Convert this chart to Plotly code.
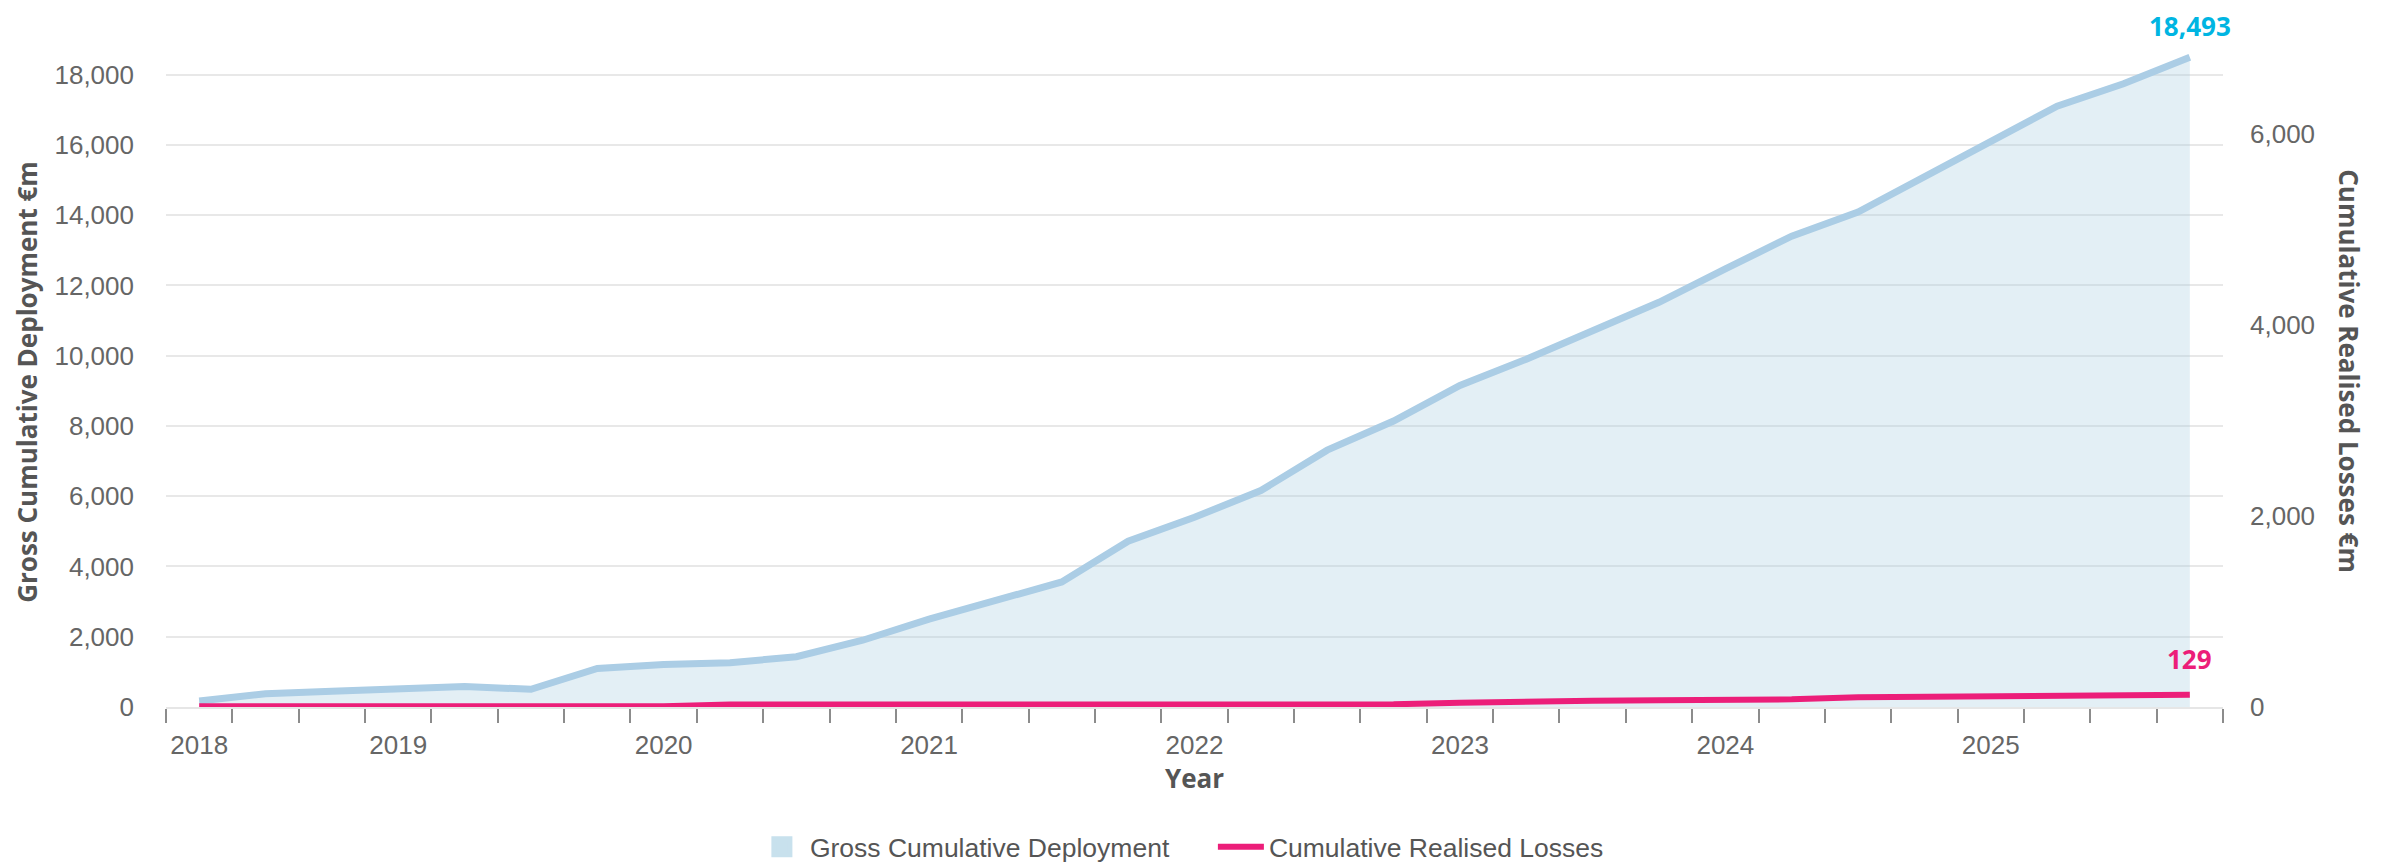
import plotly.graph_objects as go

# ---- data -----------------------------------------------------------------
quarters = [
    "2018 Q2", "2018 Q3", "2018 Q4",
    "2019 Q1", "2019 Q2", "2019 Q3", "2019 Q4",
    "2020 Q1", "2020 Q2", "2020 Q3", "2020 Q4",
    "2021 Q1", "2021 Q2", "2021 Q3", "2021 Q4",
    "2022 Q1", "2022 Q2", "2022 Q3", "2022 Q4",
    "2023 Q1", "2023 Q2", "2023 Q3", "2023 Q4",
    "2024 Q1", "2024 Q2", "2024 Q3", "2024 Q4",
    "2025 Q1", "2025 Q2", "2025 Q3", "2025 Q4",
]
deployment = [170, 380, 450, 530, 580, 505, 1095, 1210, 1260, 1430,
              1900, 2500, 3050, 3560, 4720, 5400, 6160, 7310, 8140, 9150,
              9900, 10710, 11520, 12470, 13400, 14090, 15080, 16080, 17100, 17740,
              18493]
losses = [8, 8, 8, 8, 8, 8, 8, 8,
          25, 25, 25, 25, 25, 25, 25, 25, 25, 26, 28,
          45, 62, 66, 70, 73, 80, 101, 105, 112, 119, 122, 129]

series_names = ["Gross Cumulative Deployment", "Cumulative Realised Losses"]
left_title = "Gross Cumulative Deployment €m"
right_title = "Cumulative Realised Losses €m"
x_title = "Year"

# ---- derived helpers --------------------------------------------------------
idx = list(range(len(quarters)))
year_pos, year_txt = [], []
prev = None
for i, q in enumerate(quarters):
    yr = q.split()[0]
    if yr != prev:
        year_pos.append(i)
        year_txt.append(yr)
        prev = yr
boundaries = [i - 0.5 for i in range(len(quarters) + 1)]

BLUE_LINE = "#abcde5"
BLUE_FILL = "rgba(169,206,226,0.33)"
BLUE_SWATCH = "#c8e1ed"
PINK = "#ec1e79"
CYAN = "#00b5e2"
REG = "Liberation Sans, Arial, sans-serif"
TICK_FONT = dict(family=REG, size=26, color="#666666")
BOLD = "Open Sans, Liberation Sans, sans-serif"

fig = go.Figure()
fig.add_trace(go.Scatter(
    x=idx, y=deployment, mode="lines", name=series_names[0],
    line=dict(color=BLUE_LINE, width=7), fill="tozeroy", fillcolor=BLUE_FILL,
    showlegend=False, hoverinfo="skip"))
fig.add_trace(go.Scatter(
    x=[None], y=[None], mode="markers", name=series_names[0],
    marker=dict(symbol="square", size=26, color=BLUE_SWATCH,
                line=dict(width=5, color=BLUE_SWATCH))))
fig.add_trace(go.Scatter(
    x=idx, y=losses, mode="lines", name=series_names[1], yaxis="y2",
    line=dict(color=PINK, width=6)))

# page body has an 8px default margin, so the figure is 8px smaller each way
fig.update_layout(
    width=2376, height=857,
    margin=dict(l=158, r=161, t=42, b=158, autoexpand=False),
    paper_bgcolor="white", plot_bgcolor="white",
    xaxis=dict(
        range=[-0.5, len(quarters) - 0.5],
        tickmode="array", tickvals=year_pos, ticktext=year_txt,
        ticks="outside", ticklen=14, tickcolor="rgba(0,0,0,0)",
        tickfont=TICK_FONT, showgrid=False, zeroline=False,
        showline=True, linecolor="#e6e6e6", linewidth=2,
        minor=dict(tickmode="array", tickvals=boundaries, ticks="outside",
                   ticklen=14, tickcolor="#8c8c8c", tickwidth=1.5, showgrid=False),
    ),
    yaxis=dict(
        range=[0, 18700], tickmode="linear", tick0=0, dtick=2000,
        tickformat=",", tickfont=TICK_FONT,
        showgrid=True, gridcolor="#e8e8e8", gridwidth=2,
        zeroline=False, showline=False, ticks="", ticklabelstandoff=31,
    ),
    yaxis2=dict(
        overlaying="y", side="right", range=[0, 6880],
        tickmode="linear", tick0=0, dtick=2000, tickformat=",",
        tickfont=TICK_FONT, showgrid=False, zeroline=False, showline=False,
        ticks="", ticklabelstandoff=26,
    ),
    legend=dict(
        orientation="h", x=0.2858, xanchor="left", y=-0.213, yanchor="middle",
        font=dict(family=REG, size=26.5, color="#555555"),
        itemsizing="trace", itemwidth=46, tracegroupgap=0,
        entrywidth=398, entrywidthmode="pixels",
    ),
    showlegend=True,
)

annotations = [
    dict(text=left_title, xref="paper", yref="paper", x=0, y=0.495,
         xshift=-139, xanchor="center", yanchor="middle", textangle=-90,
         showarrow=False, font=dict(family=BOLD, size=26, color="#555555", weight="bold")),
    dict(text=right_title, xref="paper", yref="paper", x=1, y=0.511,
         xshift=126, xanchor="center", yanchor="middle", textangle=90,
         showarrow=False, font=dict(family=BOLD, size=26, color="#555555", weight="bold")),
    dict(text=x_title, xref="paper", yref="paper", x=0.5, y=-0.108,
         xanchor="center", yanchor="middle", showarrow=False,
         font=dict(family=BOLD, size=26, color="#555555", weight="bold")),
    dict(text=f"{deployment[-1]:,}", xref="x", yref="y", x=idx[-1], y=deployment[-1],
         yshift=31, xanchor="center", yanchor="middle", showarrow=False, borderpad=0,
         font=dict(family=BOLD, size=26, color=CYAN, weight="bold")),
    dict(text=f"{losses[-1]:,}", xref="x", yref="y2", x=idx[-1], y=losses[-1],
         yshift=36, xanchor="center", yanchor="middle", showarrow=False, borderpad=0,
         font=dict(family=BOLD, size=26, color=PINK, weight="bold")),
]
fig.update_layout(annotations=annotations)

fig.write_html("out.html")
